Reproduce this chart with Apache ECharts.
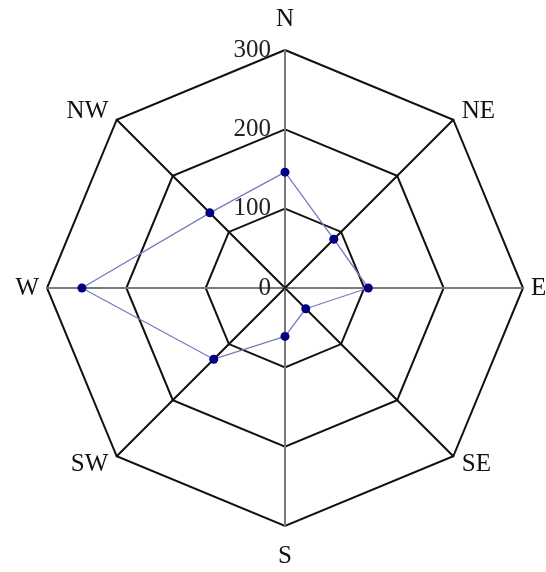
<!DOCTYPE html>
<html>
<head>
<meta charset="utf-8">
<script src="https://cdn.jsdelivr.net/npm/echarts@6/dist/echarts.min.js"></script>
<style>
  html, body { margin: 0; padding: 0; background: #fff; }
  #chart { width: 546px; height: 572px; }
</style>
</head>
<body>
<div id="chart"></div>
<script>
// Wind directions, listed clockwise from north
const directions = ['N', 'NE', 'E', 'SE', 'S', 'SW', 'W', 'NW'];
// Observed value per direction
const values = [146, 87, 105, 37, 61, 127, 256, 134];
// Radial scale
const axisMax = 300;
const axisSplits = 3;

// ECharts lays out indicators counter-clockwise, so walk the list backwards after N
const order = [0, 7, 6, 5, 4, 3, 2, 1];
const isCardinal = d => d.length === 1;

const font = 'Liberation Serif';
const nameGaps = { N: 18, S: 18, E: 8, W: 8, NE: 12, NW: 12, SE: 12, SW: 12 };

const indicator = order.map((i, k) => {
  const d = directions[i];
  return {
    name: d,
    max: axisMax,
    min: 0,
    nameGap: nameGaps[d],
    axisLine: {
      lineStyle: isCardinal(d)
        ? { color: '#7a7a7a', width: 2 }
        : { color: '#111', width: 2 }
    },
    axisLabel: { show: k === 0 }
  };
});

const chart = echarts.init(document.getElementById('chart'), null, { renderer: 'canvas' });
chart.setOption({
  animation: false,
  backgroundColor: '#fff',
  radar: {
    center: [285, 288],
    radius: 238,
    startAngle: 90,
    shape: 'polygon',
    splitNumber: axisSplits,
    indicator: indicator,
    axisName: { color: '#111', fontFamily: font, fontSize: 25 },
    axisLine: { show: true, lineStyle: { color: '#111', width: 2 } },
    splitLine: { show: true, lineStyle: { color: '#111', width: 2 } },
    splitArea: { show: false },
    axisTick: { show: false },
    axisLabel: {
      show: false,
      color: '#222',
      fontFamily: font,
      fontSize: 25,
      margin: 14,
      showMinLabel: true,
      showMaxLabel: true
    }
  },
  series: [{
    type: 'radar',
    symbol: 'circle',
    symbolSize: 9,
    lineStyle: { color: '#7a7ac0', width: 1.3 },
    itemStyle: { color: '#000080' },
    data: [{ value: order.map(i => values[i]) }]
  }]
});
</script>
</body>
</html>
